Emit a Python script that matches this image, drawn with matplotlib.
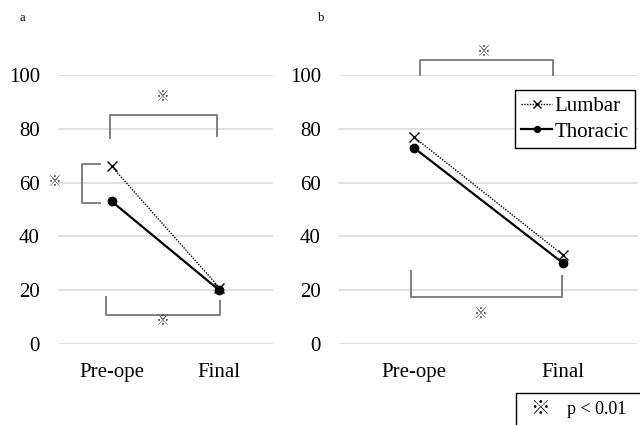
import matplotlib
matplotlib.use("Agg")
import matplotlib.pyplot as plt
from matplotlib.patches import Rectangle

plt.rcParams["font.family"] = ["Liberation Serif", "Noto Sans CJK JP", "DejaVu Sans"]

categories = ["Pre-ope", "Final"]
yticks = [0, 20, 40, 60, 80, 100]

# panel a
a_lumbar = [66, 21]
a_thoracic = [53, 20]
# panel b
b_lumbar = [77, 33]
b_thoracic = [73, 30]

MARK = "\u203b"
GRID = "#d9d9d9"
BRK = "#808080"

fig = plt.figure(figsize=(6.4, 4.25), dpi=100)
ax_a = fig.add_axes([58 / 640, 81 / 425, 215 / 640, 269 / 425])
ax_b = fig.add_axes([339 / 640, 81 / 425, 299 / 640, 269 / 425])


def style(ax):
    ax.set_xlim(-0.5, 1.5)
    ax.set_ylim(0, 100)
    ax.set_yticks(yticks)
    ax.set_xticks([0, 1])
    ax.set_xticklabels(categories)
    for s in ax.spines.values():
        s.set_visible(False)
    ax.grid(axis="y", color=GRID, lw=1.2)
    ax.set_axisbelow(True)
    ax.tick_params(length=0, labelsize=15, colors="black")
    ax.tick_params(axis="y", pad=13)
    ax.tick_params(axis="x", pad=14)


def bracket(ax, x0, x1, y, yl0, yl1):
    ax.plot([x0, x0, x1, x1], [yl0, y, y, yl1], color=BRK, lw=1.4, clip_on=False)


def star(ax, x, y, size=10):
    ax.text(x, y, MARK, ha="center", va="center", fontsize=size, color="#505050")


for ax, lum, tho in [(ax_a, a_lumbar, a_thoracic), (ax_b, b_lumbar, b_thoracic)]:
    style(ax)
    ax.plot([0, 1], lum, color="black", ls=(0, (1, 1)), lw=1, marker="x",
            ms=7.5, mew=1, label="Lumbar", clip_on=False)
    ax.plot([0, 1], tho, color="black", ls="-", lw=1.6, marker="o",
            ms=6, label="Thoracic", clip_on=False)

# panel a annotations
bracket(ax_a, -0.02, 0.98, 85, 76.5, 77.5)
star(ax_a, 0.48, 91.5)
ax_a.plot([-0.11, -0.28, -0.28, -0.11], [67, 67, 52.5, 52.5], color=BRK, lw=1.4, clip_on=False)
star(ax_a, -0.53, 60.2)
bracket(ax_a, -0.05, 1.01, 10.8, 17.5, 16)
star(ax_a, 0.48, 8.2)

# panel b annotations
bracket(ax_b, 0.04, 0.93, 105.6, 100, 100)
star(ax_b, 0.47, 108.2)
bracket(ax_b, -0.02, 0.99, 17.5, 27.1, 25.3)
star(ax_b, 0.45, 10.8)

leg = ax_b.legend(loc="upper right", bbox_to_anchor=(0.99, 0.944), fontsize=15,
                  frameon=True, fancybox=False, framealpha=1, edgecolor="black",
                  borderaxespad=0, handlelength=1.5, handletextpad=0.1,
                  borderpad=0.3, labelspacing=0.3, markerscale=0.7)
leg.get_frame().set_linewidth(1.0)

fig.text(20 / 640, 1 - 18 / 425, "a", fontsize=9, ha="left", va="center")
fig.text(318 / 640, 1 - 18 / 425, "b", fontsize=9, ha="left", va="center")

fig.patches.append(Rectangle((516 / 640, -0.05), 0.3, 0.05 + 32 / 425,
                             transform=fig.transFigure, fill=False,
                             edgecolor="black", lw=1.0))
fig.text(540 / 640, 1 - 409 / 425, MARK, fontsize=14, ha="center", va="center")
fig.text(567 / 640, 1 - 409 / 425, "p < 0.01", fontsize=13, ha="left", va="center")

fig.savefig("out.png", dpi=100)
